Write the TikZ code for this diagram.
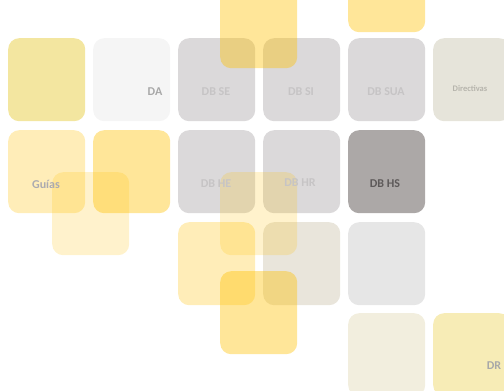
\documentclass[tikz,border=0pt]{standalone}
\usepackage{fontspec}
\setmainfont{Carlito}
\usetikzlibrary{positioning}
\definecolor{tileGold}{HTML}{FFC000}
\definecolor{tileGray}{HTML}{DBD9DA}
\definecolor{tileDark}{HTML}{ACA8A7}
\definecolor{tileKhaki}{HTML}{F3E6A0}
\definecolor{tileWhite}{HTML}{F5F5F5}
\definecolor{tileStone}{HTML}{E6E4DA}
\definecolor{tileSand}{HTML}{E9E5DB}
\definecolor{tileMist}{HTML}{E6E6E6}
\definecolor{tileCream}{HTML}{F2EEDE}
\definecolor{tileLemon}{HTML}{F7ECB6}
\definecolor{txtGray}{HTML}{A8A8A8}
\definecolor{txtLight}{HTML}{C6C4C5}
\definecolor{txtDark}{HTML}{5E5A5A}
\definecolor{txtBlue}{HTML}{ABAAB0}
\definecolor{txtStone}{HTML}{B6B4AC}

\begin{document}
\begin{tikzpicture}[
            x=1pt, y=-1pt,
            tile/.style={rectangle, rounded corners=11pt, minimum width=77pt, minimum height=83pt, inner sep=0pt, anchor=north west, draw=none},
            gold tile/.style={tile, fill=tileGold, fill opacity=#1},
            tile label/.style={font=\bfseries\fontsize{12}{14}\selectfont, inner sep=0pt},
            small label/.style={font=\bfseries\fontsize{8.5}{10}\selectfont, inner sep=0pt},
        ]

        % Page frame
        \clip (0,0) rectangle (504,391);

        % Top row, mostly cut away
        \node[gold tile=0.4] (top) at (348,-51) {};

        % First row
        \node[tile, fill=tileKhaki] (kh) at (8,38) {};
        \node[tile, fill=tileWhite] (da) at (93,38) {};
        \foreach \c/\n in {178/se, 263/si, 348/sua} {
            \node[tile, fill=tileGray] (\n) at (\c,38) {};
        }
        \node[tile, fill=tileStone] (dir) at (433,38) {};

        % Second row
        \node[gold tile=0.28] (gu) at (8,130) {};
        \node[gold tile=0.4] (gb) at (93,130) {};
        \foreach \c/\n in {178/he, 263/hr} {
            \node[tile, fill=tileGray] (\n) at (\c,130) {};
        }
        \node[tile, fill=tileDark] (hs) at (348,130) {};

        % Third row
        \node[gold tile=0.28] (gc) at (178,222) {};
        \node[tile, fill=tileSand] (sd) at (263,222) {};
        \node[tile, fill=tileMist] (ms) at (348,222) {};

        % Fourth row
        \node[tile, fill=tileCream] (cr) at (348,313) {};
        \node[tile, fill=tileLemon] (dr) at (433,313) {};

        % Floating tiles, half a step off the grid
        \node[gold tile=0.4] (fTop) at (220,-15) {};
        \node[gold tile=0.2] (fA) at (52,172) {};
        \node[gold tile=0.2] (fB) at (220,172) {};
        \node[gold tile=0.4] (fC) at (220,271) {};

        % Labels
        \node[tile label, text=txtGray] (daL) at (155,92) {DA};
        \node[tile label, text=txtLight] (seL) at (216,92) {DB SE};
        \node[tile label, text=txtLight] (siL) at (301,92) {DB SI};
        \node[tile label, text=txtLight] (suaL) at (386,92) {DB SUA};
        \node[small label, text=txtStone] (dirL) at (470,89) {Directivas};
        \node[tile label, text=txtBlue] (guL) at (46,184) {Guías};
        \node[tile label, text=txtLight] (heL) at (216,184) {DB HE};
        \node[tile label, text=txtLight] (hrL) at (300,183) {DB HR};
        \node[tile label, text=txtDark] (hsL) at (385,184) {DB HS};
        \node[tile label, text=txtGray] (drL) at (494,366) {DR};

        \end{tikzpicture}
\end{document}
